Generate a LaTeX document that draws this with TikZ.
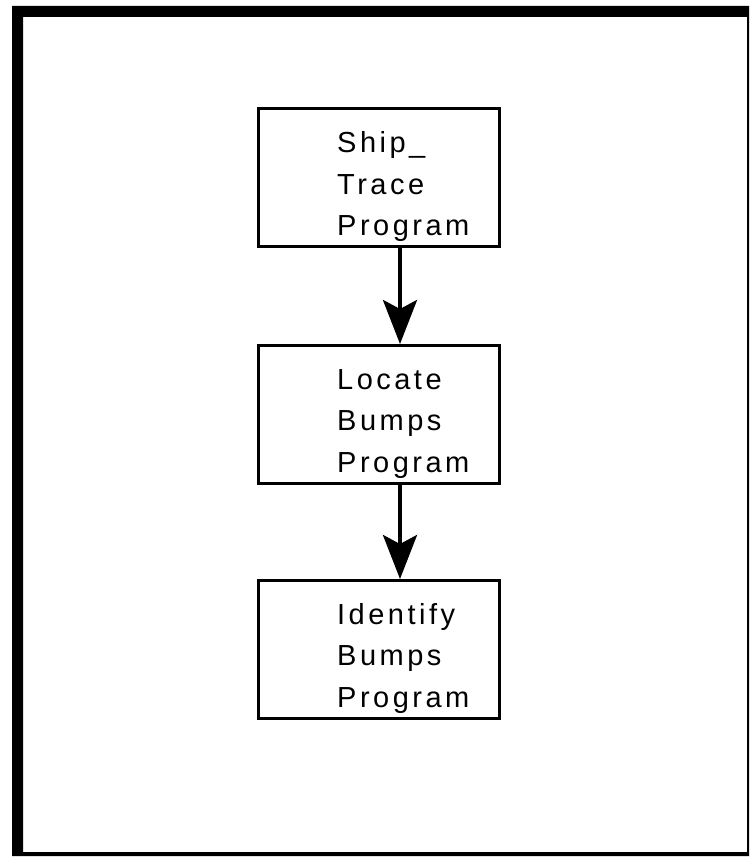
\documentclass[tikz,border=0pt]{standalone}
\usepackage{fontspec}
\setmainfont[LetterSpace=12]{Liberation Sans}
\usetikzlibrary{arrows.meta}
\tikzset{
  progbox/.style={draw, line width=3pt, minimum width=241pt, minimum height=138pt, inner sep=0pt, anchor=north west},
  progtext/.style={anchor=base west, inner sep=0pt, align=left, font=\fontsize{29pt}{41.5pt}\selectfont},
  flow/.style={line width=4pt, -{Stealth[length=44pt, width=34pt, inset=9pt]}}
}
\begin{document}
\begin{tikzpicture}[x=1pt, y=-1pt]
\useasboundingbox (0,0) rectangle (750,858);
% frame
\fill[black, even odd rule] (12,6) rectangle (749,856) (23,17) rectangle (747,852);
\node[progbox] (b1) at (257,107) {};
\node[progbox] (b2) at (257,344) {};
\node[progbox] (b3) at (257,579) {};
\node[progtext] (t1) at (337,236) {Ship\_\\Trace\\Program};
\node[progtext] (t2) at (337,472) {Locate\\Bumps\\Program};
\node[progtext] (t3) at (337,707) {Identify\\Bumps\\Program};
\coordinate (ax) at (400,0);
\draw[flow] (b1.south -| ax) -- (b2.north -| ax);
\draw[flow] (b2.south -| ax) -- (b3.north -| ax);
\end{tikzpicture}
\end{document}
